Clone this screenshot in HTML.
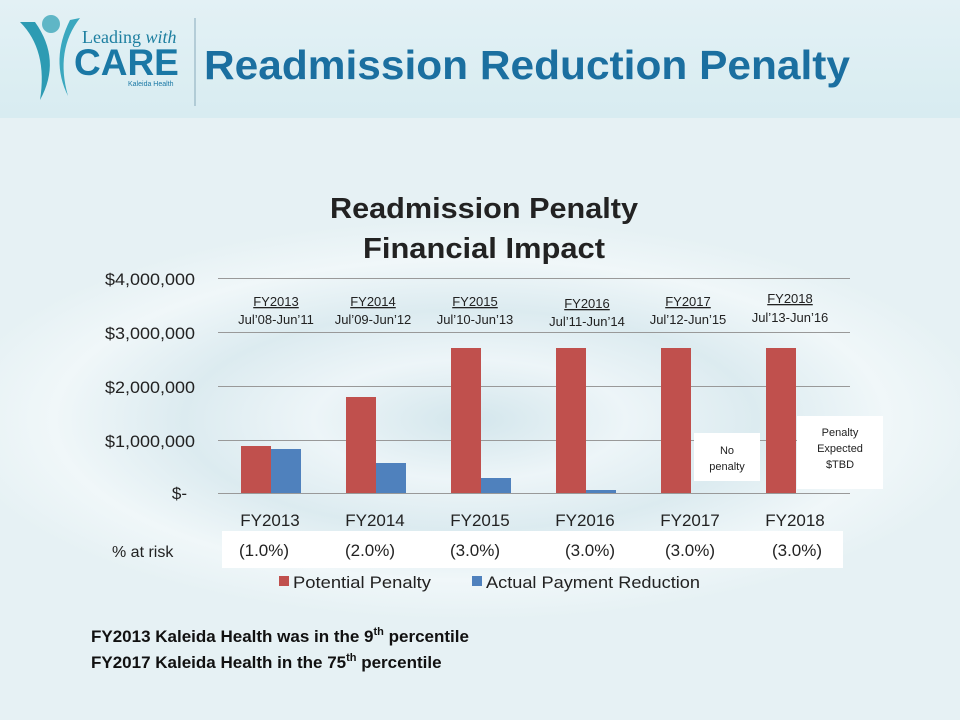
<!DOCTYPE html>
<html><head><style>
body{margin:0;width:960px;height:720px;overflow:hidden;font-family:"Liberation Sans",sans-serif;}
#bg{position:absolute;left:0;top:0;width:960px;height:720px;background:radial-gradient(ellipse 520px 200px at 470px 420px,#d3e6ec 0%,#edf5f8 30%,#dcebf0 55%,#f0f7f9 80%,#e6f1f4 100%);}
#hdr{position:absolute;left:0;top:0;width:960px;height:118px;background:linear-gradient(#e3f1f5,#d8ecf1);}
</style></head><body>
<div id="bg"></div><div id="hdr"></div>
<svg style="position:absolute;left:0;top:0" width="960" height="720">
<circle cx="51" cy="24" r="9" fill="#5fb6c6"/>
<path d="M20 22 Q48 50 40 100 Q62 60 35 22Z" fill="#2d9bb3"/>
<path d="M80 18 Q55 50 68 96 Q50 60 70 20Z" fill="#3aa8bf"/>
<line x1="195" y1="18" x2="195" y2="106" stroke="#8ab" stroke-width="1"/>
<text x="82" y="43" font-family="Liberation Serif" font-size="18" fill="#1d7fa0">Leading <tspan font-style="italic">with</tspan></text>
<text x="74" y="75" font-family="Liberation Sans" font-weight="bold" font-size="37" fill="#1a78a5">CARE</text>
<text x="128" y="86" font-size="7" fill="#1a78a5">Kaleida Health</text>
<text x="204" y="79" font-weight="bold" font-size="41" fill="#1b6fa0" textLength="646" lengthAdjust="spacingAndGlyphs">Readmission Reduction Penalty</text>
<g font-size="17" fill="#222">
<text x="195" y="285" text-anchor="end" textLength="90" lengthAdjust="spacingAndGlyphs">$4,000,000</text>
<text x="195" y="339" text-anchor="end" textLength="90" lengthAdjust="spacingAndGlyphs">$3,000,000</text>
<text x="195" y="393" text-anchor="end" textLength="90" lengthAdjust="spacingAndGlyphs">$2,000,000</text>
<text x="195" y="447" text-anchor="end" textLength="90" lengthAdjust="spacingAndGlyphs">$1,000,000</text>
<text x="187" y="499" text-anchor="end">$-</text>
</g>
<g stroke="#999" stroke-width="1">
<line x1="218" y1="278.5" x2="850" y2="278.5"/><line x1="218" y1="332.5" x2="850" y2="332.5"/>
<line x1="218" y1="386.5" x2="850" y2="386.5"/><line x1="218" y1="440.5" x2="850" y2="440.5"/>
<line x1="218" y1="493.5" x2="850" y2="493.5"/>
</g>
<rect x="694" y="433" width="66" height="48" fill="#fff"/>
<rect x="797" y="416" width="86" height="73" fill="#fff"/>
<g fill="#c0504d">
<rect x="241" y="446" width="30" height="47"/><rect x="346" y="397" width="30" height="96"/>
<rect x="451" y="348" width="30" height="145"/><rect x="556" y="348" width="30" height="145"/>
<rect x="661" y="348" width="30" height="145"/><rect x="766" y="348" width="30" height="145"/>
</g>
<g fill="#4f81bd">
<rect x="271" y="449" width="30" height="44"/><rect x="376" y="463" width="30" height="30"/>
<rect x="481" y="478" width="30" height="15"/><rect x="586" y="490" width="30" height="3"/>
</g>
<text x="727" y="454" text-anchor="middle" font-size="11" fill="#222">No</text>
<text x="727" y="470" text-anchor="middle" font-size="11" fill="#222">penalty</text>
<text x="840" y="436" text-anchor="middle" font-size="11" fill="#222">Penalty</text>
<text x="840" y="452" text-anchor="middle" font-size="11" fill="#222">Expected</text>
<text x="840" y="468" text-anchor="middle" font-size="11" fill="#222">$TBD</text>
<g font-size="13" fill="#222" text-anchor="middle">
<text x="276" y="306" text-decoration="underline">FY2013</text><text x="276" y="324">Jul’08-Jun’11</text>
<text x="373" y="306" text-decoration="underline">FY2014</text><text x="373" y="324">Jul’09-Jun’12</text>
<text x="475" y="306" text-decoration="underline">FY2015</text><text x="475" y="324">Jul’10-Jun’13</text>
<text x="587" y="308" text-decoration="underline">FY2016</text><text x="587" y="326">Jul’11-Jun’14</text>
<text x="688" y="306" text-decoration="underline">FY2017</text><text x="688" y="324">Jul’12-Jun’15</text>
<text x="790" y="303" text-decoration="underline">FY2018</text><text x="790" y="322">Jul’13-Jun’16</text>
</g>
<g font-size="17" fill="#222" text-anchor="middle">
<text x="270" y="526">FY2013</text><text x="375" y="526">FY2014</text><text x="480" y="526">FY2015</text>
<text x="585" y="526">FY2016</text><text x="690" y="526">FY2017</text><text x="795" y="526">FY2018</text>
</g>
<rect x="222" y="531" width="621" height="37" fill="#fff"/>
<text x="112" y="557" font-size="16" fill="#222">% at risk</text>
<g font-size="17" fill="#222" text-anchor="middle">
<text x="264" y="556">(1.0%)</text><text x="370" y="556">(2.0%)</text><text x="475" y="556">(3.0%)</text>
<text x="590" y="556">(3.0%)</text><text x="690" y="556">(3.0%)</text><text x="797" y="556">(3.0%)</text>
</g>
<rect x="279" y="576" width="10" height="10" fill="#c0504d"/>
<text x="293" y="588" font-size="17" fill="#222" textLength="138" lengthAdjust="spacingAndGlyphs">Potential Penalty</text>
<rect x="472" y="576" width="10" height="10" fill="#4f81bd"/>
<text x="486" y="588" font-size="17" fill="#222" textLength="214" lengthAdjust="spacingAndGlyphs">Actual Payment Reduction</text>
<text x="484" y="218" text-anchor="middle" font-size="29" font-weight="bold" fill="#222" textLength="308" lengthAdjust="spacingAndGlyphs">Readmission Penalty</text>
<text x="484" y="258" text-anchor="middle" font-size="29" font-weight="bold" fill="#222" textLength="242" lengthAdjust="spacingAndGlyphs">Financial Impact</text>
<text x="91" y="642" font-size="17" font-weight="bold" fill="#111">FY2013 Kaleida Health was in the 9<tspan font-size="11" dy="-7">th</tspan><tspan dy="7"> percentile</tspan></text>
<text x="91" y="668" font-size="17" font-weight="bold" fill="#111">FY2017 Kaleida Health in the 75<tspan font-size="11" dy="-7">th</tspan><tspan dy="7"> percentile</tspan></text>
</svg>
</body></html>
